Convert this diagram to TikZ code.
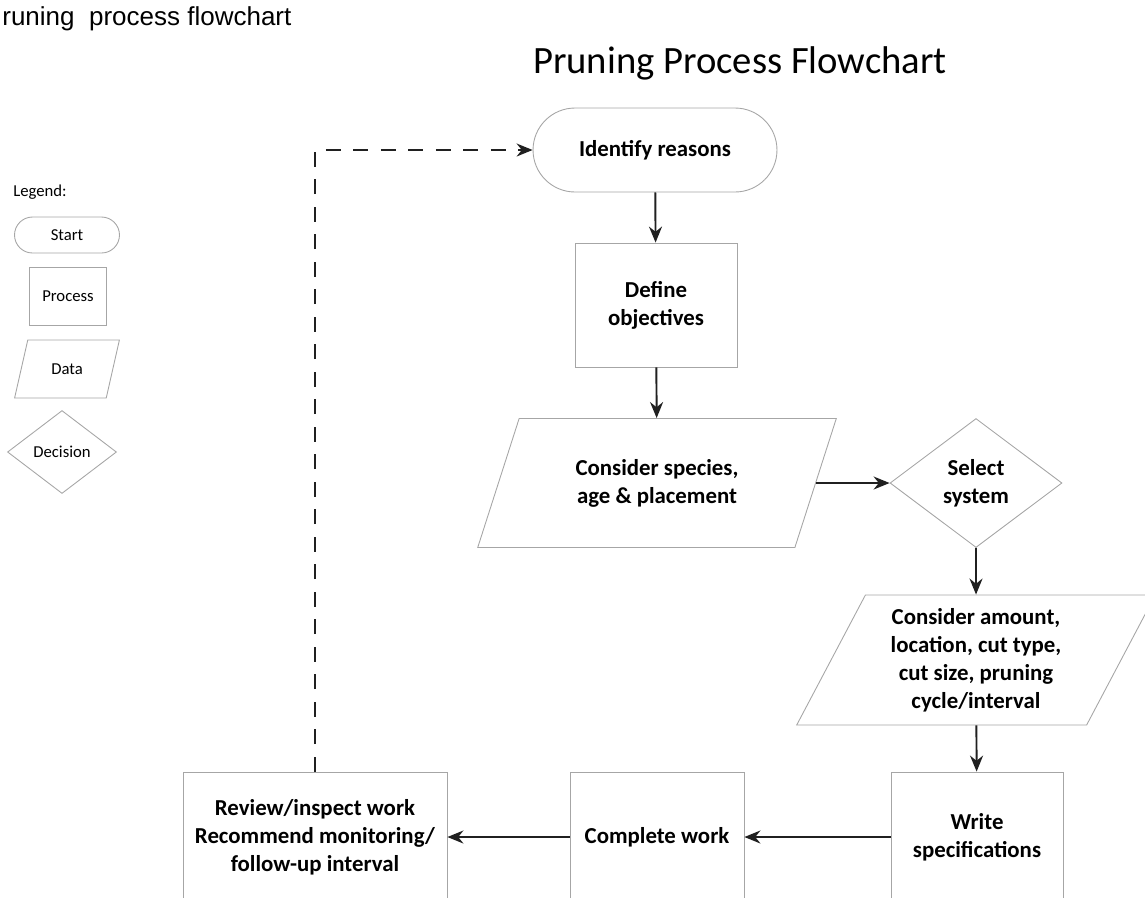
\documentclass[tikz,border=0pt]{standalone}
\usepackage{fontspec}
\setmainfont{Carlito}
\newfontfamily\scanfont{Liberation Sans}
\usetikzlibrary{shapes.geometric,shapes.misc,arrows.meta}

\begin{document}
\begin{tikzpicture}[x=0.02cm,y=-0.02cm,
    box/.style={draw=gray!70,line width=0.5pt,fill=white},
    terminal/.style={box,rounded rectangle},
    process/.style={box,rectangle},
    data/.style={box,trapezium,trapezium left angle=63,trapezium right angle=117,trapezium stretches=true},
    decision/.style={box,diamond},
    main/.style={font=\fontsize{13}{16}\selectfont\bfseries,align=center,inner sep=0pt},
    legend/.style={font=\fontsize{9.5}{11}\selectfont,align=center,inner sep=0pt},
    flow/.style={-{Stealth[length=0.32cm,width=0.26cm]},line width=1.1pt,draw=gray!25!black}]

  \clip (0,0) rectangle (1145,897);

  \node[anchor=base west,inner sep=0pt,font=\scanfont\fontsize{14.8}{17}\selectfont] (caption) at (2,25) {runing\ \ process flowchart};
  \node[anchor=base,inner sep=0pt,font=\fontsize{22}{26}\selectfont] (title) at (740,73) {Pruning Process Flowchart};

  \begin{scope}[every node/.append style={legend}]
    \node[anchor=base west] (legendtitle) at (13,196) {Legend:};
    \node[terminal,minimum width=2.1cm,minimum height=0.72cm] (lstart) at (67,235) {Start};
    \node[process,minimum width=1.54cm,minimum height=1.16cm] (lprocess) at (68,296) {Process};
    \node[data,trapezium left angle=64,trapezium right angle=116,minimum width=2.1cm,minimum height=1.16cm] (ldata) at (67,369) {Data};
    \node[decision,minimum width=2.18cm,minimum height=1.66cm] (ldecision) at (62,452) {Decision};
  \end{scope}

  \begin{scope}[every node/.append style={main}]
    \node[terminal,minimum width=4.88cm,minimum height=1.68cm] (identify) at (655,150) {Identify reasons};
    \node[process,minimum width=3.24cm,minimum height=2.48cm] (define) at (656,305) {Define\\objectives};
    \node[data,minimum width=7.18cm,minimum height=2.58cm] (species) at (657,483) {Consider species,\\age \& placement};
    \node[decision,minimum width=3.44cm,minimum height=2.58cm] (select) at (976,483) {Select\\system};
    \node[data,minimum width=7.18cm,minimum height=2.6cm] (amount) at (976,660) {Consider amount,\\location, cut type,\\cut size, pruning\\cycle/interval};
    \node[process,minimum width=3.44cm,minimum height=2.6cm] (write) at (977,837) {Write\\specifications};
    \node[process,minimum width=3.48cm,minimum height=2.6cm] (complete) at (657,837) {Complete work};
    \node[process,minimum width=5.28cm,minimum height=2.6cm] (review) at (315,837) {Review/inspect work\\Recommend monitoring/\\follow-up interval};
  \end{scope}

  \begin{scope}[every edge/.style={draw,flow}]
    \path (identify) edge (define);
    \path (define) edge (species);
    \path (species) edge (select);
    \path (select) edge (amount);
    \path (amount) edge (write);
    \path (write) edge (complete);
    \path (complete) edge (review);
  \end{scope}

  \draw[flow,line width=0.9pt,dash pattern=on 0.3cm off 0.25cm] (review.north) |- (identify.west);

\end{tikzpicture}
\end{document}
